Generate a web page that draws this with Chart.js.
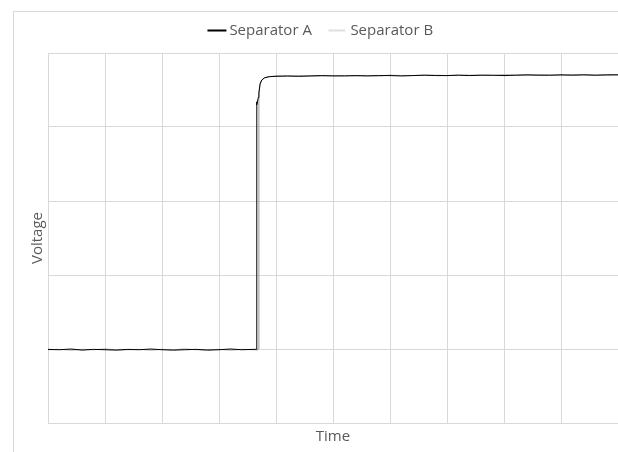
<!DOCTYPE html>
<html><head><meta charset="utf-8">
<script src="https://cdn.jsdelivr.net/npm/chart.js@4.4.0/dist/chart.umd.min.js"></script>
<style>
html,body{margin:0;padding:0;background:#fff;overflow:hidden;width:618px;height:452px}
#wrap{position:relative;width:618px;height:452px}
#frame{position:absolute;left:13px;top:11px;width:700px;height:600px;border:1px solid #d9d9d9;pointer-events:none}
</style></head>
<body><div id="wrap"><canvas id="c" width="618" height="452"></canvas><div id="frame"></div></div>
<script>
// ---- data (time in grid units, voltage in grid units) ----
const seriesNames = ['Separator A', 'Separator B'];
const timeA = [0,0.2,0.4,0.6,0.8,1.0,1.2,1.4,1.6,1.8,2.0,2.2,2.4,2.6,2.8,3.0,3.2,3.4,3.6,
  3.655,3.661,3.665,3.69,3.70,3.72,3.75,3.80,3.88,
  4.0,4.2,4.4,4.6,4.8,5.0,5.2,5.4,5.6,5.8,6.0,6.2,6.4,6.6,6.8,7.0,7.2,7.4,7.6,7.8,8.0,8.2,8.4,8.6,8.8,9.0,9.2,9.4,9.6,9.8,10.0];
const voltA = [0.995,0.99,1.0,0.985,0.995,0.99,0.985,0.995,0.99,1.0,0.99,0.985,0.99,0.995,0.985,0.99,1.0,0.99,0.995,
  0.995,4.34,4.30,4.40,4.46,4.58,4.635,4.665,4.68,
  4.685,4.69,4.685,4.69,4.695,4.69,4.69,4.695,4.69,4.695,4.695,4.69,4.695,4.70,4.695,4.695,4.70,4.695,4.70,4.70,4.695,4.70,4.705,4.70,4.70,4.705,4.70,4.705,4.70,4.705,4.705];
const timeB = [0,0.2,0.4,0.6,0.8,1.0,1.2,1.4,1.6,1.8,2.0,2.2,2.4,2.6,2.8,3.0,3.2,3.4,3.6,
  3.68,3.695,3.70,3.72,3.75,3.80,3.88,
  4.0,4.2,4.4,4.6,4.8,5.0,5.2,5.4,5.6,5.8,6.0,6.2,6.4,6.6,6.8,7.0,7.2,7.4,7.6,7.8,8.0,8.2,8.4,8.6,8.8,9.0,9.2,9.4,9.6,9.8,10.0];
const voltB = [0.99,0.995,0.985,0.995,0.99,1.0,0.99,0.99,0.995,0.985,0.995,0.99,1.0,0.99,0.99,0.995,0.985,0.995,0.99,
  0.99,1.0,4.45,4.58,4.635,4.665,4.68,
  4.69,4.685,4.69,4.69,4.69,4.695,4.695,4.69,4.695,4.69,4.70,4.695,4.695,4.70,4.70,4.695,4.70,4.70,4.70,4.695,4.705,4.70,4.70,4.705,4.70,4.70,4.705,4.705,4.70,4.70,4.705];
const axisTitles = {x: 'Time', y: 'Voltage'};

const FONT = 'Open Sans';
const TXT = '#595959';
const GRID = '#d9d9d9';

function legendLine(color, w, len) {
  const c = document.createElement('canvas');
  c.width = 41; c.height = 6;
  const g = c.getContext('2d');
  g.fillStyle = color;
  g.fillRect(12, 3 - w / 2, len, w);
  return c;
}
function pts(t, v) { return t.map((x, i) => ({x: x, y: v[i]})); }

const legendFix = {
  id: 'legendFix',
  beforeLayout(chart) {
    const lg = chart.legend;
    if (lg && !lg._patched) {
      const f = lg.fit;
      lg.fit = function () { f.call(this); this.height = 49; };
      lg._patched = true;
    }
  }
};

new Chart(document.getElementById('c'), {
  type: 'line',
  data: {
    datasets: [
      {label: seriesNames[0], data: pts(timeA, voltA), borderColor: '#000000', borderWidth: 1,
       pointRadius: 0, pointStyle: legendLine('#000000', 2, 19), tension: 0},
      {label: seriesNames[1], data: pts(timeB, voltB), borderColor: '#9a9a9a', borderWidth: 1,
       pointRadius: 0, pointStyle: legendLine('#bfbfbf', 1, 17), tension: 0}
    ]
  },
  options: {
    responsive: false,
    animation: false,
    layout: {padding: {left: 25, right: 0, top: 4, bottom: 2}},
    plugins: {
      legend: {
        position: 'top',
        labels: {usePointStyle: true, pointStyleWidth: 12, padding: 19, color: TXT,
                 font: {family: FONT, size: 15}}
      },
      tooltip: {enabled: false}
    },
    scales: {
      x: {
        type: 'linear', min: 0, max: 10,
        ticks: {display: false, stepSize: 1},
        grid: {color: GRID, drawTicks: false},
        border: {color: GRID},
        title: {display: true, text: axisTitles.x, color: TXT, font: {family: FONT, size: 15}, padding: {top: 4, bottom: 4}},
        afterFit(s) { s.height = 27; }
      },
      y: {
        min: 0, max: 5,
        ticks: {display: false, stepSize: 1},
        grid: {color: GRID, drawTicks: false},
        border: {color: GRID},
        title: {display: true, text: axisTitles.y, color: TXT, font: {family: FONT, size: 15}, padding: {top: 4, bottom: 4}},
        afterFit(s) { s.width = 23; }
      }
    }
  },
  plugins: [legendFix]
});
</script>
</body></html>
